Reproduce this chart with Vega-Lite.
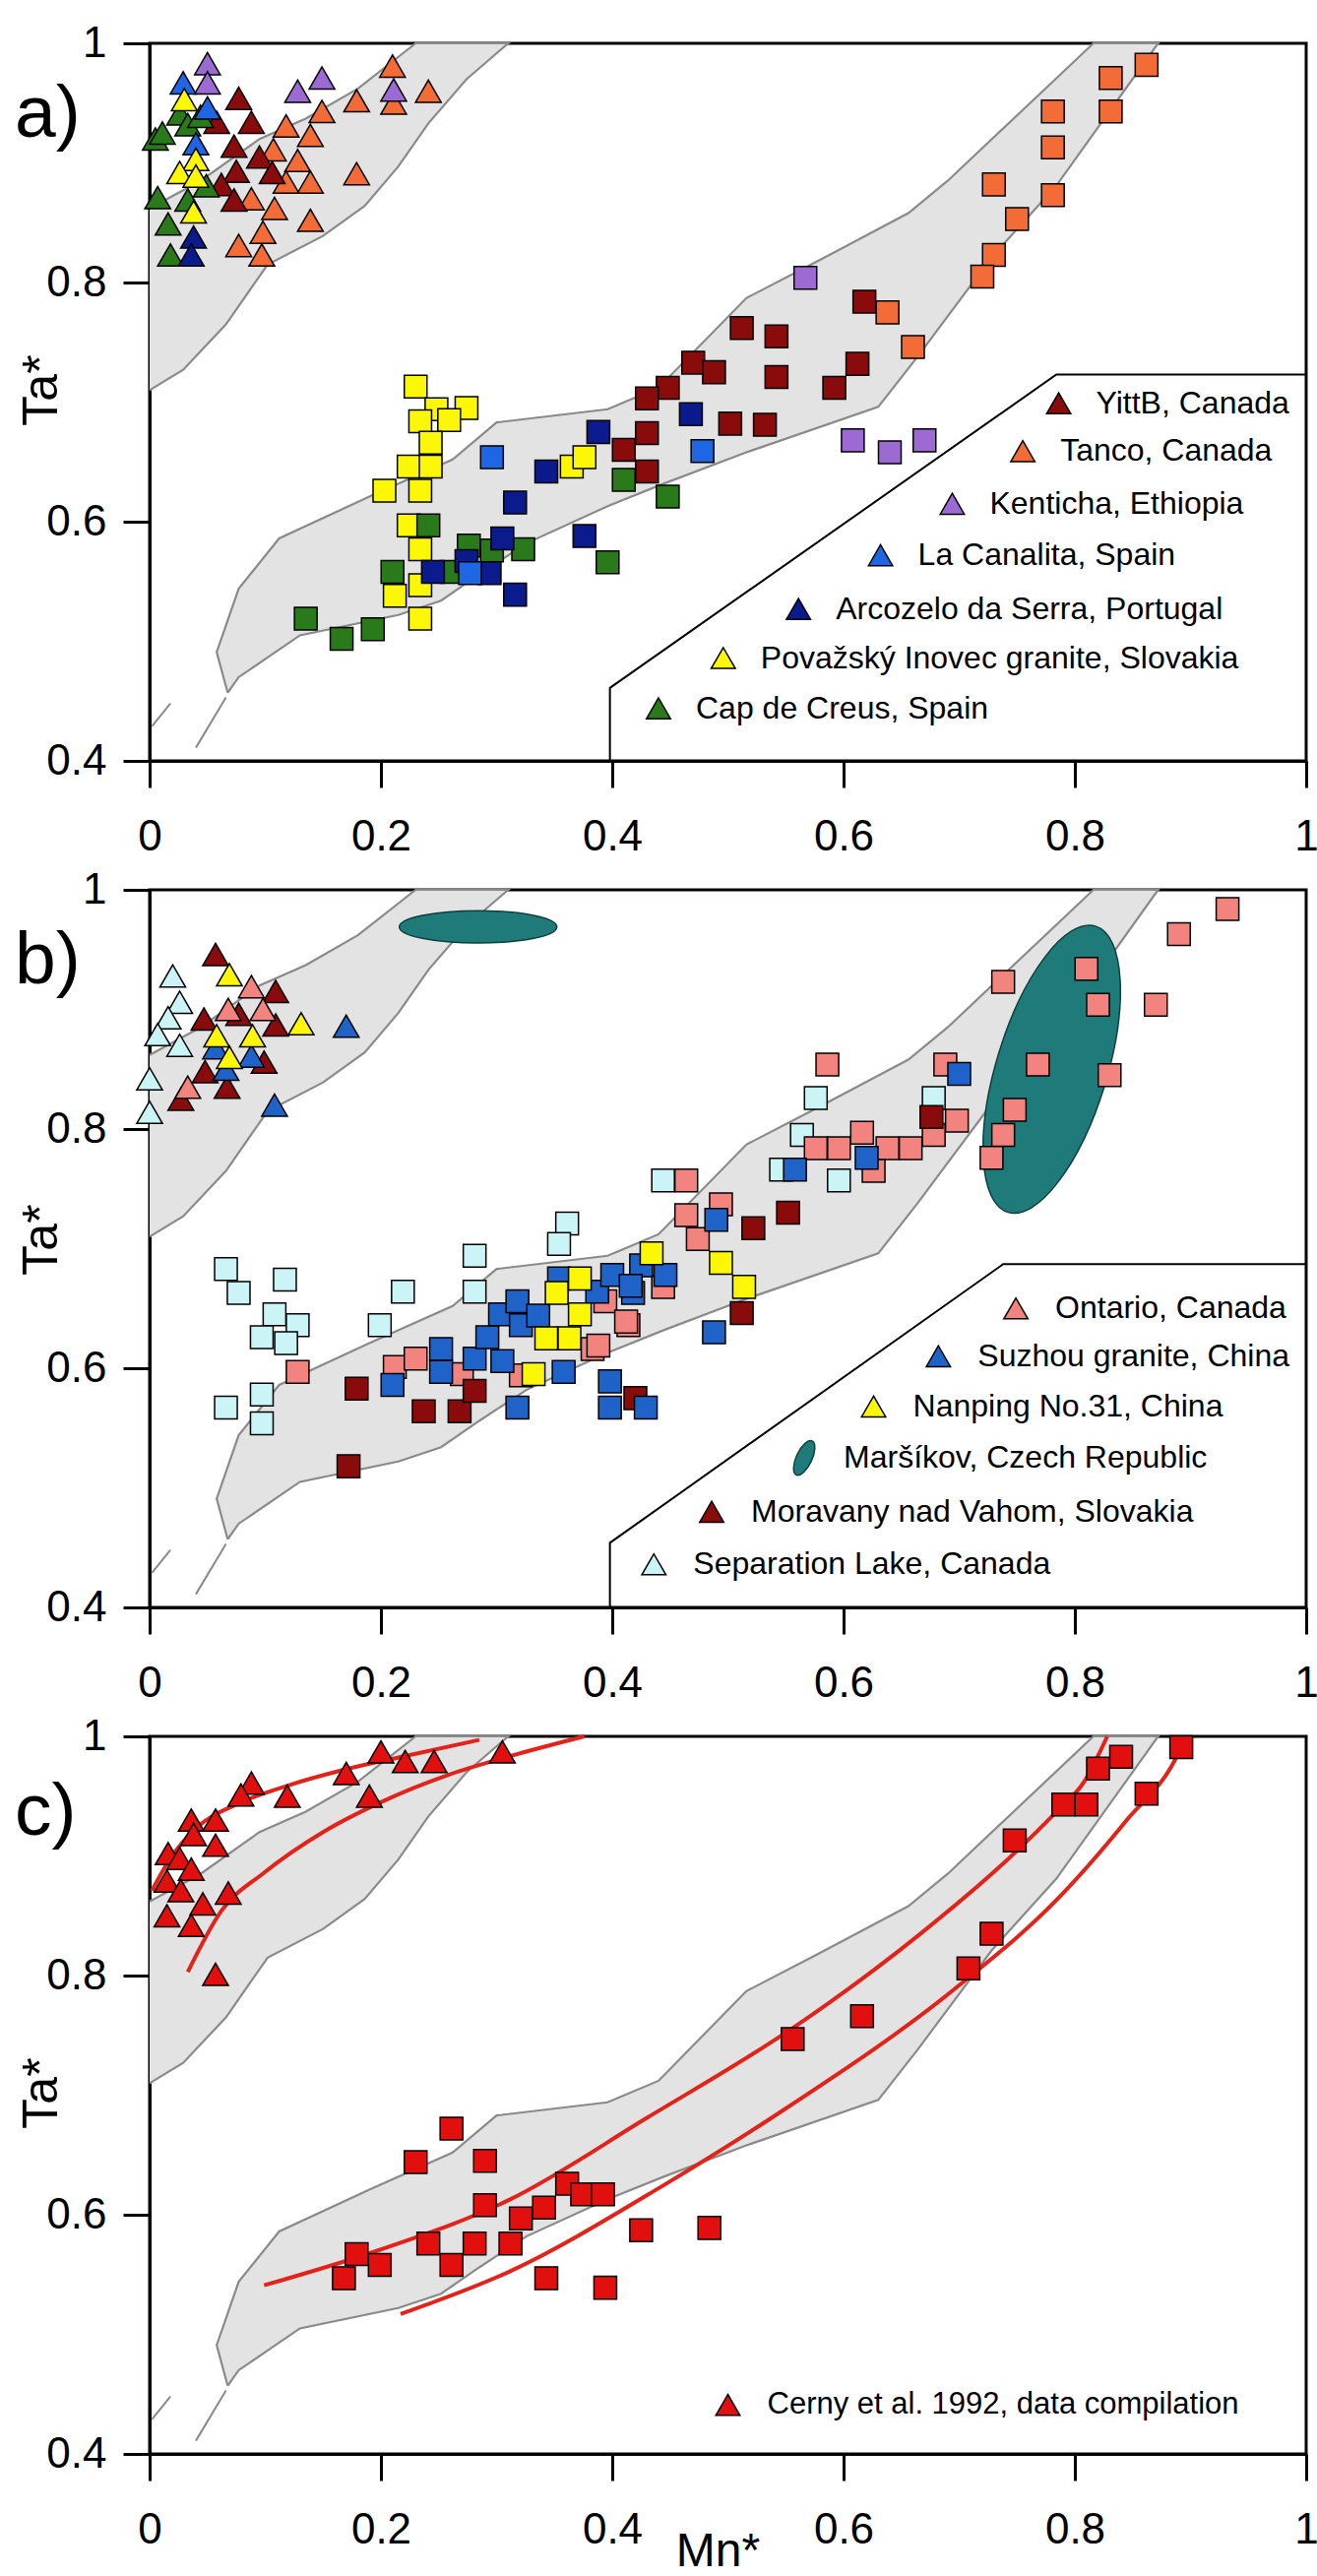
{
  "$schema": "https://vega.github.io/schema/vega-lite/v6.json",
  "background": "white",
  "padding": {"left": 13, "top": 20, "right": 0, "bottom": 0},
  "spacing": 131,
  "bounds": "flush",
  "config": {
    "font": "Liberation Sans",
    "view": {"stroke": "black", "strokeWidth": 3},
    "axis": {"grid": false, "domainColor": "black", "domainWidth": 3, "tickColor": "black", "tickWidth": 3, "tickSize": 27, "labelFontSize": 44, "labelColor": "black", "labelFont": "Liberation Sans", "labelFlush": false, "titleFont": "Liberation Sans", "titleFontWeight": "normal", "titleColor": "black"},
    "axisX": {"labelPadding": 28},
    "axisY": {"labelPadding": 17}
  },
  "datasets": {
    "zones": [
      {"z":1,"i":1,"mn":0,"ta":0.862},{"z":1,"i":2,"mn":0.044,"ta":0.885},{"z":1,"i":3,"mn":0.095,"ta":0.92},{"z":1,"i":4,"mn":0.135,"ta":0.937},{"z":1,"i":5,"mn":0.18,"ta":0.962},{"z":1,"i":6,"mn":0.23,"ta":1.0},{"z":1,"i":7,"mn":0.31,"ta":1.0},{"z":1,"i":8,"mn":0.274,"ta":0.97},{"z":1,"i":9,"mn":0.241,"ta":0.933},{"z":1,"i":10,"mn":0.215,"ta":0.897},{"z":1,"i":11,"mn":0.186,"ta":0.864},{"z":1,"i":12,"mn":0.15,"ta":0.839},{"z":1,"i":13,"mn":0.102,"ta":0.815},{"z":1,"i":14,"mn":0.066,"ta":0.765},{"z":1,"i":15,"mn":0.029,"ta":0.727},{"z":1,"i":16,"mn":0,"ta":0.71},
      {"z":2,"i":1,"mn":0.0675,"ta":0.457},{"z":2,"i":2,"mn":0.058,"ta":0.491},{"z":2,"i":3,"mn":0.077,"ta":0.544},{"z":2,"i":4,"mn":0.112,"ta":0.586},{"z":2,"i":5,"mn":0.19,"ta":0.621},{"z":2,"i":6,"mn":0.262,"ta":0.652},{"z":2,"i":7,"mn":0.3,"ta":0.683},{"z":2,"i":8,"mn":0.396,"ta":0.694},{"z":2,"i":9,"mn":0.44,"ta":0.712},{"z":2,"i":10,"mn":0.516,"ta":0.787},{"z":2,"i":11,"mn":0.576,"ta":0.817},{"z":2,"i":12,"mn":0.656,"ta":0.858},{"z":2,"i":13,"mn":0.69,"ta":0.885},{"z":2,"i":14,"mn":0.816,"ta":1.0},{"z":2,"i":15,"mn":0.872,"ta":1.0},{"z":2,"i":16,"mn":0.784,"ta":0.881},{"z":2,"i":17,"mn":0.728,"ta":0.821},{"z":2,"i":18,"mn":0.664,"ta":0.738},{"z":2,"i":19,"mn":0.63,"ta":0.696},{"z":2,"i":20,"mn":0.516,"ta":0.658},{"z":2,"i":21,"mn":0.445,"ta":0.632},{"z":2,"i":22,"mn":0.396,"ta":0.613},{"z":2,"i":23,"mn":0.326,"ta":0.582},{"z":2,"i":24,"mn":0.285,"ta":0.556},{"z":2,"i":25,"mn":0.252,"ta":0.534},{"z":2,"i":26,"mn":0.215,"ta":0.522},{"z":2,"i":27,"mn":0.13,"ta":0.505},{"z":2,"i":28,"mn":0.077,"ta":0.47},{"z":2,"i":29,"mn":0.0675,"ta":0.457}
    ],
    "dashes": [
      {"d":1,"i":1,"mn":0.002,"ta":0.429},{"d":1,"i":2,"mn":0.018,"ta":0.448},
      {"d":2,"i":1,"mn":0.04,"ta":0.411},{"d":2,"i":2,"mn":0.066,"ta":0.453}
    ],
    "boxA": [{"i":1,"mn":0.398,"ta":0.4},{"i":2,"mn":0.398,"ta":0.461},{"i":3,"mn":0.784,"ta":0.723},{"i":4,"mn":1.0,"ta":0.723}],
    "boxB": [{"i":1,"mn":0.398,"ta":0.4},{"i":2,"mn":0.398,"ta":0.454},{"i":3,"mn":0.738,"ta":0.687},{"i":4,"mn":1.0,"ta":0.687}],
    "pa": [
      {"s":"Tanco","k":"t","mn":0.21,"ta":0.981},{"s":"Tanco","k":"t","mn":0.241,"ta":0.96},{"s":"Tanco","k":"t","mn":0.179,"ta":0.952},{"s":"Tanco","k":"t","mn":0.211,"ta":0.95},{"s":"Tanco","k":"t","mn":0.149,"ta":0.943},{"s":"Tanco","k":"t","mn":0.118,"ta":0.931},{"s":"Tanco","k":"t","mn":0.139,"ta":0.923},{"s":"Tanco","k":"t","mn":0.107,"ta":0.911},{"s":"Tanco","k":"t","mn":0.128,"ta":0.902},{"s":"Tanco","k":"t","mn":0.179,"ta":0.891},{"s":"Tanco","k":"t","mn":0.118,"ta":0.884},{"s":"Tanco","k":"t","mn":0.139,"ta":0.884},{"s":"Tanco","k":"t","mn":0.088,"ta":0.87},{"s":"Tanco","k":"t","mn":0.108,"ta":0.862},{"s":"Tanco","k":"t","mn":0.139,"ta":0.852},{"s":"Tanco","k":"t","mn":0.098,"ta":0.842},{"s":"Tanco","k":"t","mn":0.077,"ta":0.831},{"s":"Tanco","k":"t","mn":0.097,"ta":0.823},
      {"s":"Kenticha","k":"t","mn":0.05,"ta":0.983},{"s":"Kenticha","k":"t","mn":0.05,"ta":0.967},{"s":"Kenticha","k":"t","mn":0.128,"ta":0.96},{"s":"Kenticha","k":"t","mn":0.149,"ta":0.971},{"s":"Kenticha","k":"t","mn":0.211,"ta":0.961},
      {"s":"YittB","k":"t","mn":0.077,"ta":0.954},{"s":"YittB","k":"t","mn":0.088,"ta":0.934},{"s":"YittB","k":"t","mn":0.058,"ta":0.934},{"s":"YittB","k":"t","mn":0.073,"ta":0.914},{"s":"YittB","k":"t","mn":0.095,"ta":0.905},{"s":"YittB","k":"t","mn":0.075,"ta":0.893},{"s":"YittB","k":"t","mn":0.106,"ta":0.892},{"s":"YittB","k":"t","mn":0.062,"ta":0.882},{"s":"YittB","k":"t","mn":0.073,"ta":0.869},
      {"s":"Cap de Creus","k":"t","mn":0.005,"ta":0.92},{"s":"Cap de Creus","k":"t","mn":0.011,"ta":0.925},{"s":"Cap de Creus","k":"t","mn":0.026,"ta":0.941},{"s":"Cap de Creus","k":"t","mn":0.033,"ta":0.932},{"s":"Cap de Creus","k":"t","mn":0.044,"ta":0.939},{"s":"Cap de Creus","k":"t","mn":0.049,"ta":0.881},{"s":"Cap de Creus","k":"t","mn":0.007,"ta":0.871},{"s":"Cap de Creus","k":"t","mn":0.033,"ta":0.869},{"s":"Cap de Creus","k":"t","mn":0.016,"ta":0.849},{"s":"Cap de Creus","k":"t","mn":0.018,"ta":0.823},
      {"s":"La Canalita","k":"t","mn":0.029,"ta":0.967},{"s":"La Canalita","k":"t","mn":0.05,"ta":0.946},{"s":"La Canalita","k":"t","mn":0.04,"ta":0.916},
      {"s":"Povazsky","k":"t","mn":0.03,"ta":0.953},{"s":"Povazsky","k":"t","mn":0.04,"ta":0.903},{"s":"Povazsky","k":"t","mn":0.026,"ta":0.892},{"s":"Povazsky","k":"t","mn":0.04,"ta":0.889},{"s":"Povazsky","k":"t","mn":0.038,"ta":0.859},
      {"s":"Arcozelo","k":"t","mn":0.038,"ta":0.838},{"s":"Arcozelo","k":"t","mn":0.036,"ta":0.823},
      {"s":"Tanco","k":"s","mn":0.862,"ta":0.982},{"s":"Tanco","k":"s","mn":0.831,"ta":0.971},{"s":"Tanco","k":"s","mn":0.831,"ta":0.943},{"s":"Tanco","k":"s","mn":0.781,"ta":0.943},{"s":"Tanco","k":"s","mn":0.781,"ta":0.913},{"s":"Tanco","k":"s","mn":0.73,"ta":0.882},{"s":"Tanco","k":"s","mn":0.781,"ta":0.873},{"s":"Tanco","k":"s","mn":0.75,"ta":0.853},{"s":"Tanco","k":"s","mn":0.73,"ta":0.823},{"s":"Tanco","k":"s","mn":0.72,"ta":0.805},{"s":"Tanco","k":"s","mn":0.638,"ta":0.775},{"s":"Tanco","k":"s","mn":0.66,"ta":0.746},
      {"s":"Kenticha","k":"s","mn":0.567,"ta":0.804},{"s":"Kenticha","k":"s","mn":0.608,"ta":0.668},{"s":"Kenticha","k":"s","mn":0.64,"ta":0.658},{"s":"Kenticha","k":"s","mn":0.67,"ta":0.668},
      {"s":"YittB","k":"s","mn":0.618,"ta":0.784},{"s":"YittB","k":"s","mn":0.512,"ta":0.762},{"s":"YittB","k":"s","mn":0.542,"ta":0.755},{"s":"YittB","k":"s","mn":0.47,"ta":0.733},{"s":"YittB","k":"s","mn":0.488,"ta":0.725},{"s":"YittB","k":"s","mn":0.542,"ta":0.721},{"s":"YittB","k":"s","mn":0.612,"ta":0.732},{"s":"YittB","k":"s","mn":0.592,"ta":0.712},{"s":"YittB","k":"s","mn":0.448,"ta":0.712},{"s":"YittB","k":"s","mn":0.43,"ta":0.703},{"s":"YittB","k":"s","mn":0.502,"ta":0.682},{"s":"YittB","k":"s","mn":0.532,"ta":0.681},{"s":"YittB","k":"s","mn":0.43,"ta":0.674},{"s":"YittB","k":"s","mn":0.41,"ta":0.66},{"s":"YittB","k":"s","mn":0.43,"ta":0.642},
      {"s":"Povazsky","k":"s","mn":0.23,"ta":0.713},{"s":"Povazsky","k":"s","mn":0.248,"ta":0.694},{"s":"Povazsky","k":"s","mn":0.274,"ta":0.695},{"s":"Povazsky","k":"s","mn":0.234,"ta":0.684},{"s":"Povazsky","k":"s","mn":0.259,"ta":0.685},{"s":"Povazsky","k":"s","mn":0.243,"ta":0.666},{"s":"Povazsky","k":"s","mn":0.224,"ta":0.646},{"s":"Povazsky","k":"s","mn":0.243,"ta":0.646},{"s":"Povazsky","k":"s","mn":0.203,"ta":0.626},{"s":"Povazsky","k":"s","mn":0.234,"ta":0.626},{"s":"Povazsky","k":"s","mn":0.224,"ta":0.597},{"s":"Povazsky","k":"s","mn":0.234,"ta":0.577},{"s":"Povazsky","k":"s","mn":0.234,"ta":0.547},{"s":"Povazsky","k":"s","mn":0.212,"ta":0.538},{"s":"Povazsky","k":"s","mn":0.234,"ta":0.519},{"s":"Povazsky","k":"s","mn":0.365,"ta":0.646},{"s":"Povazsky","k":"s","mn":0.376,"ta":0.654},
      {"s":"Cap de Creus","k":"s","mn":0.241,"ta":0.597},{"s":"Cap de Creus","k":"s","mn":0.276,"ta":0.58},{"s":"Cap de Creus","k":"s","mn":0.296,"ta":0.576},{"s":"Cap de Creus","k":"s","mn":0.323,"ta":0.577},{"s":"Cap de Creus","k":"s","mn":0.21,"ta":0.558},{"s":"Cap de Creus","k":"s","mn":0.261,"ta":0.558},{"s":"Cap de Creus","k":"s","mn":0.135,"ta":0.519},{"s":"Cap de Creus","k":"s","mn":0.166,"ta":0.502},{"s":"Cap de Creus","k":"s","mn":0.193,"ta":0.51},{"s":"Cap de Creus","k":"s","mn":0.396,"ta":0.566},{"s":"Cap de Creus","k":"s","mn":0.41,"ta":0.635},{"s":"Cap de Creus","k":"s","mn":0.448,"ta":0.621},
      {"s":"Arcozelo","k":"s","mn":0.468,"ta":0.69},{"s":"Arcozelo","k":"s","mn":0.388,"ta":0.675},{"s":"Arcozelo","k":"s","mn":0.343,"ta":0.642},{"s":"Arcozelo","k":"s","mn":0.316,"ta":0.616},{"s":"Arcozelo","k":"s","mn":0.305,"ta":0.586},{"s":"Arcozelo","k":"s","mn":0.274,"ta":0.567},{"s":"Arcozelo","k":"s","mn":0.245,"ta":0.558},{"s":"Arcozelo","k":"s","mn":0.294,"ta":0.557},{"s":"Arcozelo","k":"s","mn":0.316,"ta":0.539},{"s":"Arcozelo","k":"s","mn":0.376,"ta":0.588},
      {"s":"La Canalita","k":"s","mn":0.296,"ta":0.654},{"s":"La Canalita","k":"s","mn":0.478,"ta":0.659},{"s":"La Canalita","k":"s","mn":0.277,"ta":0.557}
    ],
    "pb": [
      {"s":"Separation","k":"t","mn":0.02,"ta":0.928},{"s":"Separation","k":"t","mn":0.026,"ta":0.906},{"s":"Separation","k":"t","mn":0.016,"ta":0.893},{"s":"Separation","k":"t","mn":0.007,"ta":0.879},{"s":"Separation","k":"t","mn":0.026,"ta":0.87},{"s":"Separation","k":"t","mn":0.0,"ta":0.842},{"s":"Separation","k":"t","mn":0.0,"ta":0.814},
      {"s":"Moravany","k":"t","mn":0.057,"ta":0.946},{"s":"Moravany","k":"t","mn":0.109,"ta":0.915},{"s":"Moravany","k":"t","mn":0.047,"ta":0.892},{"s":"Moravany","k":"t","mn":0.077,"ta":0.896},{"s":"Moravany","k":"t","mn":0.109,"ta":0.887},{"s":"Moravany","k":"t","mn":0.099,"ta":0.856},{"s":"Moravany","k":"t","mn":0.048,"ta":0.848},{"s":"Moravany","k":"t","mn":0.067,"ta":0.835},{"s":"Moravany","k":"t","mn":0.027,"ta":0.825},
      {"s":"Ontario","k":"t","mn":0.088,"ta":0.919},{"s":"Ontario","k":"t","mn":0.068,"ta":0.9},{"s":"Ontario","k":"t","mn":0.098,"ta":0.9},{"s":"Ontario","k":"t","mn":0.033,"ta":0.835},
      {"s":"Suzhou","k":"t","mn":0.17,"ta":0.886},{"s":"Suzhou","k":"t","mn":0.108,"ta":0.82},{"s":"Suzhou","k":"t","mn":0.057,"ta":0.868},{"s":"Suzhou","k":"t","mn":0.088,"ta":0.861},{"s":"Suzhou","k":"t","mn":0.066,"ta":0.85},
      {"s":"Nanping","k":"t","mn":0.069,"ta":0.929},{"s":"Nanping","k":"t","mn":0.131,"ta":0.888},{"s":"Nanping","k":"t","mn":0.058,"ta":0.878},{"s":"Nanping","k":"t","mn":0.089,"ta":0.878},{"s":"Nanping","k":"t","mn":0.069,"ta":0.86},
      {"s":"Separation","k":"s","mn":0.066,"ta":0.683},{"s":"Separation","k":"s","mn":0.077,"ta":0.663},{"s":"Separation","k":"s","mn":0.117,"ta":0.674},{"s":"Separation","k":"s","mn":0.108,"ta":0.645},{"s":"Separation","k":"s","mn":0.128,"ta":0.636},{"s":"Separation","k":"s","mn":0.097,"ta":0.626},{"s":"Separation","k":"s","mn":0.118,"ta":0.621},{"s":"Separation","k":"s","mn":0.219,"ta":0.664},{"s":"Separation","k":"s","mn":0.199,"ta":0.636},{"s":"Separation","k":"s","mn":0.281,"ta":0.694},{"s":"Separation","k":"s","mn":0.281,"ta":0.664},{"s":"Separation","k":"s","mn":0.361,"ta":0.721},{"s":"Separation","k":"s","mn":0.354,"ta":0.704},{"s":"Separation","k":"s","mn":0.097,"ta":0.578},{"s":"Separation","k":"s","mn":0.066,"ta":0.567},{"s":"Separation","k":"s","mn":0.097,"ta":0.554},{"s":"Separation","k":"s","mn":0.576,"ta":0.826},{"s":"Separation","k":"s","mn":0.678,"ta":0.826},{"s":"Separation","k":"s","mn":0.564,"ta":0.795},{"s":"Separation","k":"s","mn":0.546,"ta":0.766},{"s":"Separation","k":"s","mn":0.596,"ta":0.757},{"s":"Separation","k":"s","mn":0.444,"ta":0.757},
      {"s":"Ontario","k":"s","mn":0.128,"ta":0.597},{"s":"Ontario","k":"s","mn":0.212,"ta":0.601},{"s":"Ontario","k":"s","mn":0.23,"ta":0.608},{"s":"Ontario","k":"s","mn":0.27,"ta":0.595},{"s":"Ontario","k":"s","mn":0.321,"ta":0.594},{"s":"Ontario","k":"s","mn":0.383,"ta":0.616},{"s":"Ontario","k":"s","mn":0.414,"ta":0.636},{"s":"Ontario","k":"s","mn":0.394,"ta":0.656},{"s":"Ontario","k":"s","mn":0.474,"ta":0.708},{"s":"Ontario","k":"s","mn":0.444,"ta":0.668},{"s":"Ontario","k":"s","mn":0.412,"ta":0.639},{"s":"Ontario","k":"s","mn":0.388,"ta":0.619},{"s":"Ontario","k":"s","mn":0.932,"ta":0.984},{"s":"Ontario","k":"s","mn":0.89,"ta":0.963},{"s":"Ontario","k":"s","mn":0.81,"ta":0.934},{"s":"Ontario","k":"s","mn":0.738,"ta":0.923},{"s":"Ontario","k":"s","mn":0.82,"ta":0.904},{"s":"Ontario","k":"s","mn":0.87,"ta":0.904},{"s":"Ontario","k":"s","mn":0.768,"ta":0.854},{"s":"Ontario","k":"s","mn":0.83,"ta":0.845},{"s":"Ontario","k":"s","mn":0.748,"ta":0.816},{"s":"Ontario","k":"s","mn":0.738,"ta":0.795},{"s":"Ontario","k":"s","mn":0.728,"ta":0.776},{"s":"Ontario","k":"s","mn":0.586,"ta":0.854},{"s":"Ontario","k":"s","mn":0.688,"ta":0.854},{"s":"Ontario","k":"s","mn":0.698,"ta":0.807},{"s":"Ontario","k":"s","mn":0.678,"ta":0.795},{"s":"Ontario","k":"s","mn":0.658,"ta":0.784},{"s":"Ontario","k":"s","mn":0.638,"ta":0.784},{"s":"Ontario","k":"s","mn":0.616,"ta":0.797},{"s":"Ontario","k":"s","mn":0.596,"ta":0.784},{"s":"Ontario","k":"s","mn":0.576,"ta":0.784},{"s":"Ontario","k":"s","mn":0.626,"ta":0.765},{"s":"Ontario","k":"s","mn":0.464,"ta":0.757},{"s":"Ontario","k":"s","mn":0.494,"ta":0.737},{"s":"Ontario","k":"s","mn":0.464,"ta":0.728},
      {"s":"Moravany","k":"s","mn":0.179,"ta":0.583},{"s":"Moravany","k":"s","mn":0.237,"ta":0.564},{"s":"Moravany","k":"s","mn":0.268,"ta":0.564},{"s":"Moravany","k":"s","mn":0.281,"ta":0.581},{"s":"Moravany","k":"s","mn":0.172,"ta":0.518},{"s":"Moravany","k":"s","mn":0.42,"ta":0.575},{"s":"Moravany","k":"s","mn":0.522,"ta":0.717},{"s":"Moravany","k":"s","mn":0.552,"ta":0.73},{"s":"Moravany","k":"s","mn":0.512,"ta":0.646},{"s":"Moravany","k":"s","mn":0.676,"ta":0.81},
      {"s":"Suzhou","k":"s","mn":0.21,"ta":0.586},{"s":"Suzhou","k":"s","mn":0.252,"ta":0.616},{"s":"Suzhou","k":"s","mn":0.252,"ta":0.597},{"s":"Suzhou","k":"s","mn":0.281,"ta":0.608},{"s":"Suzhou","k":"s","mn":0.305,"ta":0.606},{"s":"Suzhou","k":"s","mn":0.292,"ta":0.626},{"s":"Suzhou","k":"s","mn":0.303,"ta":0.645},{"s":"Suzhou","k":"s","mn":0.321,"ta":0.636},{"s":"Suzhou","k":"s","mn":0.318,"ta":0.656},{"s":"Suzhou","k":"s","mn":0.336,"ta":0.644},{"s":"Suzhou","k":"s","mn":0.354,"ta":0.675},{"s":"Suzhou","k":"s","mn":0.358,"ta":0.597},{"s":"Suzhou","k":"s","mn":0.318,"ta":0.567},{"s":"Suzhou","k":"s","mn":0.398,"ta":0.589},{"s":"Suzhou","k":"s","mn":0.398,"ta":0.567},{"s":"Suzhou","k":"s","mn":0.429,"ta":0.567},{"s":"Suzhou","k":"s","mn":0.387,"ta":0.664},{"s":"Suzhou","k":"s","mn":0.4,"ta":0.678},{"s":"Suzhou","k":"s","mn":0.418,"ta":0.663},{"s":"Suzhou","k":"s","mn":0.425,"ta":0.686},{"s":"Suzhou","k":"s","mn":0.49,"ta":0.724},{"s":"Suzhou","k":"s","mn":0.446,"ta":0.678},{"s":"Suzhou","k":"s","mn":0.416,"ta":0.669},{"s":"Suzhou","k":"s","mn":0.488,"ta":0.63},{"s":"Suzhou","k":"s","mn":0.7,"ta":0.846},{"s":"Suzhou","k":"s","mn":0.62,"ta":0.776},{"s":"Suzhou","k":"s","mn":0.558,"ta":0.766},
      {"s":"Nanping","k":"s","mn":0.352,"ta":0.663},{"s":"Nanping","k":"s","mn":0.372,"ta":0.675},{"s":"Nanping","k":"s","mn":0.372,"ta":0.645},{"s":"Nanping","k":"s","mn":0.343,"ta":0.625},{"s":"Nanping","k":"s","mn":0.363,"ta":0.625},{"s":"Nanping","k":"s","mn":0.332,"ta":0.595},{"s":"Nanping","k":"s","mn":0.434,"ta":0.696},{"s":"Nanping","k":"s","mn":0.494,"ta":0.688},{"s":"Nanping","k":"s","mn":0.514,"ta":0.668}
    ],
    "pc": [
      {"s":"Cerny","k":"t","mn":0.2,"ta":0.987},{"s":"Cerny","k":"t","mn":0.221,"ta":0.979},{"s":"Cerny","k":"t","mn":0.246,"ta":0.979},{"s":"Cerny","k":"t","mn":0.305,"ta":0.987},{"s":"Cerny","k":"t","mn":0.17,"ta":0.969},{"s":"Cerny","k":"t","mn":0.19,"ta":0.95},{"s":"Cerny","k":"t","mn":0.088,"ta":0.961},{"s":"Cerny","k":"t","mn":0.079,"ta":0.951},{"s":"Cerny","k":"t","mn":0.119,"ta":0.95},{"s":"Cerny","k":"t","mn":0.036,"ta":0.93},{"s":"Cerny","k":"t","mn":0.057,"ta":0.93},{"s":"Cerny","k":"t","mn":0.038,"ta":0.918},{"s":"Cerny","k":"t","mn":0.057,"ta":0.909},{"s":"Cerny","k":"t","mn":0.016,"ta":0.902},{"s":"Cerny","k":"t","mn":0.026,"ta":0.898},{"s":"Cerny","k":"t","mn":0.036,"ta":0.889},{"s":"Cerny","k":"t","mn":0.015,"ta":0.879},{"s":"Cerny","k":"t","mn":0.027,"ta":0.871},{"s":"Cerny","k":"t","mn":0.068,"ta":0.869},{"s":"Cerny","k":"t","mn":0.046,"ta":0.86},{"s":"Cerny","k":"t","mn":0.015,"ta":0.85},{"s":"Cerny","k":"t","mn":0.036,"ta":0.842},{"s":"Cerny","k":"t","mn":0.057,"ta":0.801},
      {"s":"Cerny","k":"s","mn":0.892,"ta":0.991},{"s":"Cerny","k":"s","mn":0.84,"ta":0.983},{"s":"Cerny","k":"s","mn":0.82,"ta":0.973},{"s":"Cerny","k":"s","mn":0.79,"ta":0.943},{"s":"Cerny","k":"s","mn":0.81,"ta":0.943},{"s":"Cerny","k":"s","mn":0.862,"ta":0.952},{"s":"Cerny","k":"s","mn":0.748,"ta":0.913},{"s":"Cerny","k":"s","mn":0.728,"ta":0.835},{"s":"Cerny","k":"s","mn":0.708,"ta":0.806},{"s":"Cerny","k":"s","mn":0.616,"ta":0.766},{"s":"Cerny","k":"s","mn":0.556,"ta":0.747},{"s":"Cerny","k":"s","mn":0.261,"ta":0.672},{"s":"Cerny","k":"s","mn":0.23,"ta":0.644},{"s":"Cerny","k":"s","mn":0.29,"ta":0.645},{"s":"Cerny","k":"s","mn":0.29,"ta":0.608},{"s":"Cerny","k":"s","mn":0.321,"ta":0.597},{"s":"Cerny","k":"s","mn":0.341,"ta":0.606},{"s":"Cerny","k":"s","mn":0.361,"ta":0.626},{"s":"Cerny","k":"s","mn":0.374,"ta":0.617},{"s":"Cerny","k":"s","mn":0.392,"ta":0.617},{"s":"Cerny","k":"s","mn":0.179,"ta":0.567},{"s":"Cerny","k":"s","mn":0.199,"ta":0.558},{"s":"Cerny","k":"s","mn":0.168,"ta":0.547},{"s":"Cerny","k":"s","mn":0.241,"ta":0.576},{"s":"Cerny","k":"s","mn":0.261,"ta":0.558},{"s":"Cerny","k":"s","mn":0.281,"ta":0.576},{"s":"Cerny","k":"s","mn":0.312,"ta":0.576},{"s":"Cerny","k":"s","mn":0.343,"ta":0.547},{"s":"Cerny","k":"s","mn":0.394,"ta":0.539},{"s":"Cerny","k":"s","mn":0.425,"ta":0.587},{"s":"Cerny","k":"s","mn":0.484,"ta":0.589}
    ],
    "curves": [
      {"c":1,"mn":0.002,"ta":0.871},{"c":1,"mn":0.018,"ta":0.898},{"c":1,"mn":0.04,"ta":0.923},{"c":1,"mn":0.077,"ta":0.944},{"c":1,"mn":0.12,"ta":0.959},{"c":1,"mn":0.172,"ta":0.973},{"c":1,"mn":0.223,"ta":0.984},{"c":1,"mn":0.285,"ta":0.997},
      {"c":2,"mn":0.033,"ta":0.803},{"c":2,"mn":0.062,"ta":0.854},{"c":2,"mn":0.099,"ta":0.886},{"c":2,"mn":0.15,"ta":0.92},{"c":2,"mn":0.2,"ta":0.945},{"c":2,"mn":0.259,"ta":0.968},{"c":2,"mn":0.31,"ta":0.983},{"c":2,"mn":0.376,"ta":1.0},
      {"c":3,"mn":0.099,"ta":0.541},{"c":3,"mn":0.2,"ta":0.571},{"c":3,"mn":0.31,"ta":0.612},{"c":3,"mn":0.43,"ta":0.681},{"c":3,"mn":0.556,"ta":0.756},{"c":3,"mn":0.664,"ta":0.833},{"c":3,"mn":0.744,"ta":0.899},{"c":3,"mn":0.784,"ta":0.937},{"c":3,"mn":0.808,"ta":0.962},{"c":3,"mn":0.828,"ta":1.0},
      {"c":4,"mn":0.217,"ta":0.517},{"c":4,"mn":0.31,"ta":0.552},{"c":4,"mn":0.445,"ta":0.625},{"c":4,"mn":0.544,"ta":0.685},{"c":4,"mn":0.704,"ta":0.795},{"c":4,"mn":0.784,"ta":0.863},{"c":4,"mn":0.844,"ta":0.929},{"c":4,"mn":0.89,"ta":0.987},{"c":4,"mn":0.896,"ta":1.0}
    ],
    "la": [
      {"s":"YittB","label":"YittB, Canada","mn":0.786,"ta":0.699},
      {"s":"Tanco","label":"Tanco, Canada","mn":0.755,"ta":0.659},
      {"s":"Kenticha","label":"Kenticha, Ethiopia","mn":0.694,"ta":0.615},
      {"s":"La Canalita","label":"La Canalita, Spain","mn":0.632,"ta":0.572},
      {"s":"Arcozelo","label":"Arcozelo da Serra, Portugal","mn":0.561,"ta":0.527},
      {"s":"Povazsky","label":"Považský Inovec granite, Slovakia","mn":0.496,"ta":0.486},
      {"s":"Cap de Creus","label":"Cap de Creus, Spain","mn":0.44,"ta":0.444}
    ],
    "lb": [
      {"s":"Ontario","k":"t","label":"Ontario, Canada","mn":0.749,"ta":0.65},
      {"s":"Suzhou","k":"t","label":"Suzhou granite, China","mn":0.682,"ta":0.61},
      {"s":"Nanping","k":"t","label":"Nanping No.31, China","mn":0.626,"ta":0.568},
      {"s":"Marsikov","k":"e","label":"Maršíkov, Czech Republic","mn":0.566,"ta":0.525},
      {"s":"Moravany","k":"t","label":"Moravany nad Vahom, Slovakia","mn":0.486,"ta":0.48},
      {"s":"Separation","k":"t","label":"Separation Lake, Canada","mn":0.436,"ta":0.436}
    ],
    "lc": [
      {"s":"Cerny","label":"Cerny et al. 1992, data compilation","mn":0.5,"ta":0.441}
    ]
  },
  "vconcat": [
    {
      "width": 1175, "height": 729,
      "encoding": {
        "x": {"field": "mn", "type": "quantitative", "scale": {"domain": [0, 1], "nice": false, "zero": false}, "axis": {"values": [0, 0.2, 0.4, 0.6, 0.8, 1], "format": ".1~f", "title": null}},
        "y": {"field": "ta", "type": "quantitative", "scale": {"domain": [0.4, 1], "nice": false, "zero": false}, "axis": {"values": [0.4, 0.6, 0.8, 1], "format": ".1~f", "title": "Ta*", "titleFontSize": 50, "titleX": -110, "titleY": 352, "titleBaseline": "middle", "titleAlign": "center"}}
      },
      "layer": [
        {"data": {"name": "zones"}, "mark": {"type": "line", "fill": "#e3e3e3", "stroke": "#8a8a8a", "strokeWidth": 2.2}, "encoding": {"detail": {"field": "z", "type": "nominal"}, "order": {"field": "i", "type": "quantitative"}}},
        {"data": {"name": "dashes"}, "mark": {"type": "line", "stroke": "#8a8a8a", "strokeWidth": 2}, "encoding": {"detail": {"field": "d", "type": "nominal"}, "order": {"field": "i", "type": "quantitative"}}},
        {"data": {"name": "boxA"}, "mark": {"type": "line", "stroke": "black", "strokeWidth": 2}, "encoding": {"order": {"field": "i", "type": "quantitative"}}},
        {"data": {"name": "pa"}, "transform": [{"filter": "datum.k == 't'"}], "mark": {"type": "point", "shape": "triangle-up", "filled": true, "size": 680, "stroke": "black", "strokeWidth": 1.5, "opacity": 1},
         "encoding": {"color": {"field": "s", "type": "nominal", "legend": null, "scale": {"domain": ["YittB","Tanco","Kenticha","La Canalita","Arcozelo","Povazsky","Cap de Creus","Ontario","Suzhou","Nanping","Moravany","Separation"], "range": ["#8a0b0b","#f36b37","#9c6ad3","#1f66e5","#0b1a8c","#fbf706","#2a7a1b","#f2837f","#1f63c9","#fbf706","#8a0b0b","#cbf4f7"]}}}},
        {"data": {"name": "pa"}, "transform": [{"filter": "datum.k == 's'"}], "mark": {"type": "point", "shape": "square", "filled": true, "size": 530, "stroke": "black", "strokeWidth": 1.5, "opacity": 1},
         "encoding": {"color": {"field": "s", "type": "nominal", "legend": null, "scale": {"domain": ["YittB","Tanco","Kenticha","La Canalita","Arcozelo","Povazsky","Cap de Creus","Ontario","Suzhou","Nanping","Moravany","Separation"], "range": ["#8a0b0b","#f36b37","#9c6ad3","#1f66e5","#0b1a8c","#fbf706","#2a7a1b","#f2837f","#1f63c9","#fbf706","#8a0b0b","#cbf4f7"]}}}},
        {"data": {"name": "la"}, "mark": {"type": "point", "shape": "triangle-up", "filled": true, "size": 600, "stroke": "black", "strokeWidth": 1.5, "opacity": 1},
         "encoding": {"color": {"field": "s", "type": "nominal", "legend": null, "scale": {"domain": ["YittB","Tanco","Kenticha","La Canalita","Arcozelo","Povazsky","Cap de Creus","Ontario","Suzhou","Nanping","Moravany","Separation"], "range": ["#8a0b0b","#f36b37","#9c6ad3","#1f66e5","#0b1a8c","#fbf706","#2a7a1b","#f2837f","#1f63c9","#fbf706","#8a0b0b","#cbf4f7"]}}}},
        {"data": {"name": "la"}, "mark": {"type": "text", "align": "left", "baseline": "middle", "dx": 38, "fontSize": 32, "color": "black"}, "encoding": {"text": {"field": "label"}}},
        {"data": {"values": [{"panel": "a)", "mn": -0.1166, "ta": 0.922}]}, "mark": {"type": "text", "clip": false, "align": "left", "baseline": "alphabetic", "fontSize": 75, "fill": "black", "opacity": 1}, "encoding": {"text": {"field": "panel", "type": "nominal"}}}
      ]
    },
    {
      "width": 1175, "height": 729,
      "encoding": {
        "x": {"field": "mn", "type": "quantitative", "scale": {"domain": [0, 1], "nice": false, "zero": false}, "axis": {"values": [0, 0.2, 0.4, 0.6, 0.8, 1], "format": ".1~f", "title": null}},
        "y": {"field": "ta", "type": "quantitative", "scale": {"domain": [0.4, 1], "nice": false, "zero": false}, "axis": {"values": [0.4, 0.6, 0.8, 1], "format": ".1~f", "title": "Ta*", "titleFontSize": 50, "titleX": -110, "titleY": 355, "titleBaseline": "middle", "titleAlign": "center"}}
      },
      "layer": [
        {"data": {"name": "zones"}, "mark": {"type": "line", "fill": "#e3e3e3", "stroke": "#8a8a8a", "strokeWidth": 2.2}, "encoding": {"detail": {"field": "z", "type": "nominal"}, "order": {"field": "i", "type": "quantitative"}}},
        {"data": {"name": "dashes"}, "mark": {"type": "line", "stroke": "#8a8a8a", "strokeWidth": 2}, "encoding": {"detail": {"field": "d", "type": "nominal"}, "order": {"field": "i", "type": "quantitative"}}},
        {"data": {"name": "boxB"}, "mark": {"type": "line", "stroke": "black", "strokeWidth": 2}, "encoding": {"order": {"field": "i", "type": "quantitative"}}},
        {"data": {"values": [{"mn": 0.284, "ta": 0.969}]}, "mark": {"type": "point", "shape": "M 1 0 C 1 0.1132 0.5523 0.205 0 0.205 C -0.5523 0.205 -1 0.1132 -1 0 C -1 -0.1132 -0.5523 -0.205 0 -0.205 C 0.5523 -0.205 1 -0.1132 1 0 Z", "size": 25600, "filled": true, "fill": "#1f7b79", "stroke": "#0d3f3d", "strokeWidth": 1.5, "opacity": 1}},
        {"data": {"values": [{"mn": 0.78, "ta": 0.85}]}, "mark": {"type": "point", "shape": "M 0.37 0 C 0.37 0.5523 0.2044 1 0 1 C -0.2044 1 -0.37 0.5523 -0.37 0 C -0.37 -0.5523 -0.2044 -1 0 -1 C 0.2044 -1 0.37 -0.5523 0.37 0 Z", "size": 92416, "angle": 17, "filled": true, "fill": "#1f7b79", "stroke": "#0d3f3d", "strokeWidth": 1.5, "opacity": 1}},
        {"data": {"name": "pb"}, "transform": [{"filter": "datum.k == 't'"}], "mark": {"type": "point", "shape": "triangle-up", "filled": true, "size": 680, "stroke": "black", "strokeWidth": 1.5, "opacity": 1},
         "encoding": {"color": {"field": "s", "type": "nominal", "legend": null, "scale": {"domain": ["YittB","Tanco","Kenticha","La Canalita","Arcozelo","Povazsky","Cap de Creus","Ontario","Suzhou","Nanping","Moravany","Separation"], "range": ["#8a0b0b","#f36b37","#9c6ad3","#1f66e5","#0b1a8c","#fbf706","#2a7a1b","#f2837f","#1f63c9","#fbf706","#8a0b0b","#cbf4f7"]}}}},
        {"data": {"name": "pb"}, "transform": [{"filter": "datum.k == 's'"}], "mark": {"type": "point", "shape": "square", "filled": true, "size": 530, "stroke": "black", "strokeWidth": 1.5, "opacity": 1},
         "encoding": {"color": {"field": "s", "type": "nominal", "legend": null, "scale": {"domain": ["YittB","Tanco","Kenticha","La Canalita","Arcozelo","Povazsky","Cap de Creus","Ontario","Suzhou","Nanping","Moravany","Separation"], "range": ["#8a0b0b","#f36b37","#9c6ad3","#1f66e5","#0b1a8c","#fbf706","#2a7a1b","#f2837f","#1f63c9","#fbf706","#8a0b0b","#cbf4f7"]}}}},
        {"data": {"name": "lb"}, "transform": [{"filter": "datum.k == 't'"}], "mark": {"type": "point", "shape": "triangle-up", "filled": true, "size": 600, "stroke": "black", "strokeWidth": 1.5, "opacity": 1},
         "encoding": {"color": {"field": "s", "type": "nominal", "legend": null, "scale": {"domain": ["YittB","Tanco","Kenticha","La Canalita","Arcozelo","Povazsky","Cap de Creus","Ontario","Suzhou","Nanping","Moravany","Separation"], "range": ["#8a0b0b","#f36b37","#9c6ad3","#1f66e5","#0b1a8c","#fbf706","#2a7a1b","#f2837f","#1f63c9","#fbf706","#8a0b0b","#cbf4f7"]}}}},
        {"data": {"name": "lb"}, "transform": [{"filter": "datum.k == 'e'"}], "mark": {"type": "point", "shape": "M 0.42 0 C 0.42 0.5523 0.232 1 0 1 C -0.232 1 -0.42 0.5523 -0.42 0 C -0.42 -0.5523 -0.232 -1 0 -1 C 0.232 -1 0.42 -0.5523 0.42 0 Z", "size": 1444, "angle": 25, "filled": true, "fill": "#1f7b79", "stroke": "#0d3f3d", "strokeWidth": 1.5, "opacity": 1}},
        {"data": {"name": "lb"}, "mark": {"type": "text", "align": "left", "baseline": "middle", "dx": 40, "fontSize": 32, "color": "black"}, "encoding": {"text": {"field": "label"}}},
        {"data": {"values": [{"panel": "b)", "mn": -0.1166, "ta": 0.922}]}, "mark": {"type": "text", "clip": false, "align": "left", "baseline": "alphabetic", "fontSize": 75, "fill": "black", "opacity": 1}, "encoding": {"text": {"field": "panel", "type": "nominal"}}}
      ]
    },
    {
      "width": 1175, "height": 729,
      "encoding": {
        "x": {"field": "mn", "type": "quantitative", "scale": {"domain": [0, 1], "nice": false, "zero": false}, "axis": {"values": [0, 0.2, 0.4, 0.6, 0.8, 1], "format": ".1~f", "title": "Mn*", "titleFontSize": 48, "titleX": 577, "titleY": 99, "titleBaseline": "middle", "titleAlign": "center", "titleAngle": 0}},
        "y": {"field": "ta", "type": "quantitative", "scale": {"domain": [0.4, 1], "nice": false, "zero": false}, "axis": {"values": [0.4, 0.6, 0.8, 1], "format": ".1~f", "title": "Ta*", "titleFontSize": 50, "titleX": -110, "titleY": 362, "titleBaseline": "middle", "titleAlign": "center"}}
      },
      "layer": [
        {"data": {"name": "zones"}, "mark": {"type": "line", "fill": "#e3e3e3", "stroke": "#8a8a8a", "strokeWidth": 2.2}, "encoding": {"detail": {"field": "z", "type": "nominal"}, "order": {"field": "i", "type": "quantitative"}}},
        {"data": {"name": "dashes"}, "mark": {"type": "line", "stroke": "#8a8a8a", "strokeWidth": 2}, "encoding": {"detail": {"field": "d", "type": "nominal"}, "order": {"field": "i", "type": "quantitative"}}},
        {"data": {"name": "curves"}, "mark": {"type": "line", "stroke": "#e2231a", "strokeWidth": 4, "interpolate": "monotone"}, "encoding": {"detail": {"field": "c", "type": "nominal"}, "order": {"field": "mn", "type": "quantitative"}}},
        {"data": {"name": "pc"}, "transform": [{"filter": "datum.k == 't'"}], "mark": {"type": "point", "shape": "triangle-up", "filled": true, "size": 680, "stroke": "black", "strokeWidth": 1.5, "opacity": 1, "fill": "#e20f0f"}},
        {"data": {"name": "pc"}, "transform": [{"filter": "datum.k == 's'"}], "mark": {"type": "point", "shape": "square", "filled": true, "size": 530, "stroke": "black", "strokeWidth": 1.5, "opacity": 1, "fill": "#e20f0f"}},
        {"data": {"name": "lc"}, "mark": {"type": "point", "shape": "triangle-up", "filled": true, "size": 600, "stroke": "black", "strokeWidth": 1.5, "opacity": 1, "fill": "#e20f0f"}},
        {"data": {"name": "lc"}, "mark": {"type": "text", "align": "left", "baseline": "middle", "dx": 40, "fontSize": 31, "color": "black"}, "encoding": {"text": {"field": "label"}}},
        {"data": {"values": [{"panel": "c)", "mn": -0.1166, "ta": 0.918}]}, "mark": {"type": "text", "clip": false, "align": "left", "baseline": "alphabetic", "fontSize": 75, "fill": "black", "opacity": 1}, "encoding": {"text": {"field": "panel", "type": "nominal"}}}
      ]
    }
  ]
}
